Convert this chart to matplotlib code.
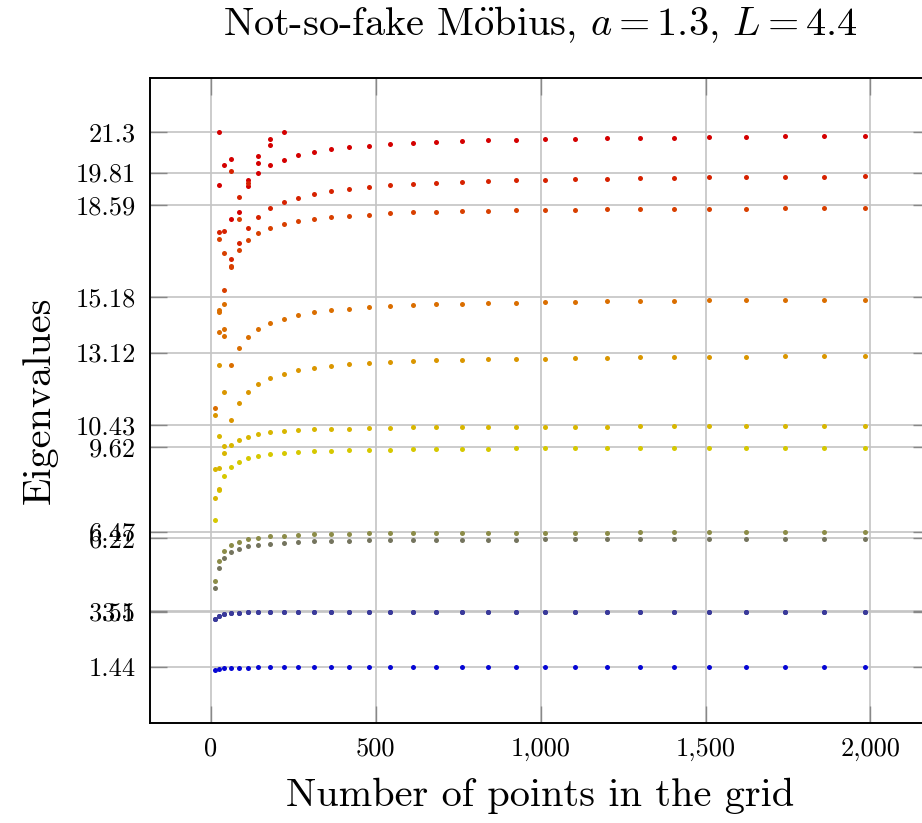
import numpy as np
import matplotlib
matplotlib.use('Agg')
from matplotlib import pyplot as plt
from matplotlib.ticker import FixedLocator, FixedFormatter

plt.rcParams['font.family'] = 'serif'
plt.rcParams['font.serif'] = ['cmr10']
plt.rcParams['mathtext.fontset'] = 'cm'
plt.rcParams['axes.formatter.use_mathtext'] = True

# number of grid points, N = 2m(m+1) for m = 2..31
n_points = [12, 24, 40, 60, 84, 112, 144, 180, 220, 264, 312, 364, 420, 480, 544,
            612, 684, 760, 840, 924, 1012, 1104, 1200, 1300, 1404, 1512, 1624,
            1740, 1860, 1984]

nan = np.nan
ev0 = [1.33, 1.37, 1.40, 1.41, 1.42, 1.42, 1.43, 1.43, 1.43, 1.43, 1.43, 1.43, 1.44, 1.44, 1.44,
       1.44, 1.44, 1.44, 1.44, 1.44, 1.44, 1.44, 1.44, 1.44, 1.44, 1.44, 1.44, 1.44, 1.44, 1.44]
ev1 = [3.21, 3.33, 3.41, 3.44, 3.45, 3.47, 3.47, 3.48, 3.48, 3.48, 3.48, 3.49, 3.49, 3.49, 3.49,
       3.49, 3.49, 3.49, 3.50, 3.50, 3.50, 3.50, 3.50, 3.50, 3.50, 3.50, 3.50, 3.50, 3.50, 3.50]
ev2 = [3.21, 3.33, 3.41, 3.44, 3.45, 3.47, 3.47, 3.48, 3.48, 3.48, 3.48, 3.49, 3.49, 3.49, 3.49,
       3.49, 3.49, 3.49, 3.50, 3.50, 3.50, 3.50, 3.50, 3.50, 3.50, 3.50, 3.50, 3.50, 3.50, 3.50]
ev3 = [4.36, 5.11, 5.49, 5.70, 5.83, 5.92, 5.98, 6.02, 6.05, 6.08, 6.11, 6.12, 6.13, 6.14, 6.15,
       6.16, 6.17, 6.17, 6.17, 6.17, 6.18, 6.18, 6.18, 6.18, 6.18, 6.18, 6.18, 6.18, 6.18, 6.18]
ev4 = [4.62, 5.36, 5.74, 5.96, 6.09, 6.18, 6.24, 6.29, 6.31, 6.34, 6.37, 6.38, 6.39, 6.40, 6.41,
       6.42, 6.42, 6.42, 6.43, 6.43, 6.43, 6.43, 6.43, 6.44, 6.44, 6.44, 6.44, 6.44, 6.44, 6.44]
ev5 = [6.91, 8.00, 8.54, 8.87, 9.06, 9.19, 9.28, 9.34, 9.39, 9.42, 9.45, 9.47, 9.50, 9.51, 9.52,
       9.53, 9.54, 9.55, 9.55, 9.56, 9.56, 9.56, 9.57, 9.57, 9.57, 9.57, 9.58, 9.58, 9.58, 9.58]
ev6 = [7.72, 8.06, 9.38, 9.67, 9.87, 9.99, 10.08, 10.16, 10.20, 10.24, 10.27, 10.29, 10.30, 10.32, 10.33,
       10.34, 10.35, 10.35, 10.36, 10.36, 10.37, 10.37, 10.37, 10.38, 10.38, 10.38, 10.38, 10.39, 10.39, 10.39]
ev7 = [10.81, 12.67, 11.65, 10.62, 11.26, 11.66, 11.96, 12.17, 12.33, 12.46, 12.56, 12.63, 12.69, 12.74, 12.78,
       12.82, 12.84, 12.86, 12.88, 12.89, 12.90, 12.92, 12.93, 12.94, 12.95, 12.96, 12.97, 12.98, 12.98, 12.99]
ev8 = [nan, 13.87, 13.74, 12.65, 13.28, 13.70, 14.00, 14.22, 14.38, 14.51, 14.61, 14.69, 14.75, 14.80, 14.84,
       14.87, 14.91, 14.93, 14.96, 14.97, 14.99, 15.01, 15.02, 15.03, 15.04, 15.06, 15.06, 15.07, 15.08, 15.08]
ev9 = [nan, 17.33, 16.82, 16.30, 16.92, 17.30, 17.56, 17.74, 17.89, 18.00, 18.09, 18.15, 18.20, 18.25, 18.29,
       18.33, 18.35, 18.37, 18.39, 18.40, 18.41, 18.42, 18.44, 18.45, 18.46, 18.46, 18.47, 18.48, 18.48, 18.49]
ev10 = [nan, 17.59, 17.63, 16.60, 17.18, 17.76, 18.17, 18.48, 18.71, 18.87, 19.01, 19.12, 19.20, 19.27, 19.33,
        19.38, 19.42, 19.47, 19.49, 19.52, 19.54, 19.57, 19.58, 19.60, 19.61, 19.63, 19.64, 19.65, 19.66, 19.67]
ev11 = [nan, 19.35, 20.10, 18.08, 18.35, 19.31, 19.81, 20.09, 20.28, 20.45, 20.57, 20.67, 20.74, 20.80, 20.87,
        20.91, 20.95, 20.98, 21.00, 21.03, 21.05, 21.06, 21.09, 21.10, 21.11, 21.12, 21.14, 21.15, 21.15, 21.16]

# stray points at coarse grids (N, value, colour index)
extra_n = [12, 12, 24, 24, 40, 24, 24, 40, 40, 40,
           24, 60, 60, 60, 84, 84, 112, 112, 144, 144, 180, 180, 220]
extra_y = [11.06, 8.79, 8.82, 10.03, 9.66, 14.62, 14.70, 14.00, 14.93, 15.43,
           21.31, 20.33, 19.85, 16.34, 18.89, 18.08, 19.55, 19.43, 20.43, 20.17, 21.06, 20.82, 21.30]
extra_k = [8, 6, 6, 6, 6, 8, 8, 8, 8, 9,
           11, 11, 10, 9, 10, 9, 11, 10, 11, 11, 11, 11, 11]

exact_vals = [1.44, 3.5, 3.51, 6.22, 6.47, 9.62, 10.43, 13.12, 15.18, 18.59, 19.81, 21.3]
exact_labels = ['1.44', '3.5', '3.51', '6.22', '6.47', '9.62', '10.43', '13.12',
                '15.18', '18.59', '19.81', '21.3']
x_ticks = [0, 500, 1000, 1500, 2000]
x_labels = ['0', '500', '1,000', '1,500', '2,000']

colors = ['#0606d4', '#3a3a9a', '#3a3a9a', '#74745e', '#8c8c48', '#d6c800',
          '#d8b600', '#da9600', '#da6e00', '#d84000', '#d62200', '#d40000']
series = [ev0, ev1, ev2, ev3, ev4, ev5, ev6, ev7, ev8, ev9, ev10, ev11]

fig = plt.figure(figsize=(9.22, 8.23), dpi=100)
ax = fig.add_axes([0.1627, 0.1215, 0.846, 0.7837])

for k, ys in enumerate(series):
    ax.plot(n_points, ys, 'o', ms=3.6, color=colors[k], mew=0, zorder=3)
for n, y, k in zip(extra_n, extra_y, extra_k):
    ax.plot(n, y, 'o', ms=3.6, color=colors[k], mew=0, zorder=3)

ax.set_xlim(-185, 2181)
ax.set_ylim(-0.64, 23.32)
ax.yaxis.set_major_locator(FixedLocator(exact_vals))
ax.yaxis.set_major_formatter(FixedFormatter(exact_labels))
ax.xaxis.set_major_locator(FixedLocator(x_ticks))
ax.xaxis.set_major_formatter(FixedFormatter(x_labels))

ax.grid(True, color='#c4c4c4', lw=1.2, zorder=0)
ax.tick_params(direction='in', length=12, width=1.0, color='#888888',
               labelsize=19, top=True, right=True, pad=10)
for s in ax.spines.values():
    s.set_linewidth(1.4)

ax.set_title(r'Not-so-fake M$\ddot{\mathrm{o}}$bius, $a = 1.3$, $L = 4.4$', fontsize=29, pad=31)
ax.set_xlabel('Number of points in the grid', fontsize=29, labelpad=12)
ax.set_ylabel('Eigenvalues', fontsize=29, labelpad=13)

plt.savefig('out.png', dpi=100)
